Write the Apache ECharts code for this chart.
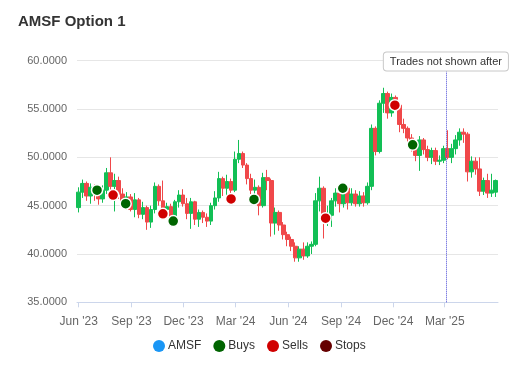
<!DOCTYPE html>
<html>
<head>
<meta charset="utf-8">
<script src="https://cdn.jsdelivr.net/npm/echarts@6/dist/echarts.min.js"></script>
<style>html,body{margin:0;padding:0;background:#fff}#c{width:530px;height:380px}</style>
</head>
<body>
<div id="c"></div>
<script>
const dates = [
'2023-06-01','2023-06-08','2023-06-15','2023-06-22','2023-06-29','2023-07-06','2023-07-13','2023-07-20','2023-07-27','2023-08-03',
'2023-08-10','2023-08-17','2023-08-24','2023-08-31','2023-09-07','2023-09-14','2023-09-21','2023-09-28','2023-10-05','2023-10-12',
'2023-10-19','2023-10-26','2023-11-02','2023-11-09','2023-11-16','2023-11-23','2023-11-30','2023-12-07','2023-12-14','2023-12-21',
'2023-12-28','2024-01-04','2024-01-11','2024-01-18','2024-01-25','2024-02-01','2024-02-08','2024-02-15','2024-02-22','2024-02-29',
'2024-03-07','2024-03-14','2024-03-21','2024-03-28','2024-04-04','2024-04-11','2024-04-18','2024-04-25','2024-05-02','2024-05-09',
'2024-05-16','2024-05-23','2024-05-30','2024-06-06','2024-06-13','2024-06-20','2024-06-27','2024-07-04','2024-07-11','2024-07-18',
'2024-07-25','2024-08-01','2024-08-08','2024-08-15','2024-08-22','2024-08-29','2024-09-05','2024-09-12','2024-09-19','2024-09-26',
'2024-10-03','2024-10-10','2024-10-17','2024-10-24','2024-10-31','2024-11-07','2024-11-14','2024-11-21','2024-11-28','2024-12-05',
'2024-12-12','2024-12-19','2024-12-26','2025-01-02','2025-01-09','2025-01-16','2025-01-23','2025-01-30','2025-02-06','2025-02-13',
'2025-02-20','2025-02-27','2025-03-06','2025-03-13','2025-03-20','2025-03-27','2025-04-03','2025-04-10','2025-04-17','2025-04-24',
'2025-05-01','2025-05-08','2025-05-15','2025-05-22','2025-05-29'];
const opens = [44.8,46.4,47.3,46.0,46.9,46.2,45.7,46.6,48.4,47.0, 47.6,46.2,45.5,45.9,44.6,45.6,44.1,44.8,43.3,44.6,
 47.0,45.5,44.6,44.9,43.6,45.4,46.1,45.2,44.2,45.4, 43.6,44.3,43.8,43.4,45.0,45.8,47.8,46.8,47.5,46.6,
 49.8,50.4,49.2,47.8,46.6,46.9,45.0,47.9,47.6,43.2, 44.3,43.0,42.0,41.5,40.8,39.6,40.5,39.8,40.8,41.0,
 45.5,46.8,43.6,44.0,45.5,46.3,45.2,46.8,45.3,46.2, 45.2,46.0,45.3,47.0,53.0,50.6,55.6,56.6,54.6,56.2,
 55.4,53.4,53.0,52.0,51.3,50.2,51.8,50.8,50.0,50.7, 49.6,49.7,50.9,50.0,50.9,51.8,52.6,52.4,48.5,49.6,
 48.8,46.5,47.6,46.3,46.4];
const closes = [46.4,47.3,46.0,46.9,46.2,45.7,46.6,48.4,47.0,47.6, 46.2,45.5,45.9,44.6,45.6,44.1,44.8,43.3,44.6,47.0,
 45.5,44.6,44.9,43.6,45.4,46.1,45.2,44.2,45.4,43.6, 44.3,43.8,43.4,45.0,45.8,47.8,46.8,47.5,46.6,49.8,
 50.4,49.2,47.8,46.6,46.9,45.0,47.9,47.6,43.2,44.3, 43.0,42.0,41.5,40.8,39.6,40.5,39.8,40.8,41.0,45.5,
 46.8,43.6,44.0,45.5,46.3,45.2,46.8,45.3,46.2,45.2, 46.0,45.3,47.0,53.0,50.6,55.6,56.6,54.6,56.2,55.4,
 53.4,53.0,52.0,51.3,50.2,51.8,50.8,50.0,50.7,49.6, 49.7,50.9,50.0,50.9,51.8,52.6,52.4,48.5,49.6,48.8,
 46.5,47.6,46.3,46.6,47.6];
const lows = [44.3,45.8,45.5,45.2,45.5,45.1,45.3,46.2,46.5,44.4, 45.7,45.0,44.6,44.4,43.8,43.7,43.6,42.5,42.7,44.2,
 45.0,44.1,43.8,43.2,43.3,44.8,44.9,43.6,42.6,43.0, 42.8,43.2,42.8,43.0,44.6,45.4,46.0,45.8,45.4,46.4,
 49.4,48.9,47.2,46.2,45.6,44.0,44.8,46.6,41.8,42.0, 42.4,41.5,40.8,40.3,39.2,39.2,39.4,39.6,40.0,40.8,
 44.4,41.6,42.9,42.8,44.9,44.3,44.8,44.6,45.0,44.9, 44.9,44.9,45.1,46.6,50.2,50.4,54.6,54.0,54.2,55.0,
 52.6,52.5,51.6,50.6,49.6,48.6,50.3,49.6,49.3,49.2, 49.2,49.4,49.8,49.4,50.3,51.2,51.5,47.5,47.9,48.2,
 46.0,46.1,45.8,45.9,45.9];
const highs = [46.9,47.7,47.5,47.3,47.2,46.8,47.1,48.9,50.0,48.3, 48.0,46.8,46.4,46.2,46.3,45.8,45.4,45.0,45.0,47.4,
 47.2,47.6,45.3,45.2,45.6,46.6,46.7,45.8,45.8,45.5, 44.6,44.5,44.2,45.3,46.5,48.5,48.0,48.2,47.8,50.6,
 51.8,50.6,49.4,48.3,47.7,47.1,48.4,48.7,47.8,44.8, 44.5,43.3,42.3,41.8,41.2,40.8,41.2,41.2,41.3,46.3,
 48.0,47.0,45.0,45.8,46.8,46.6,47.2,47.0,46.8,46.6, 46.5,46.4,47.4,53.4,53.2,55.9,57.2,56.8,56.6,56.4,
 55.6,54.0,53.2,52.4,51.6,52.2,52.0,51.2,51.0,51.0, 50.2,51.2,52.8,51.4,52.3,53.0,53.0,52.6,50.1,50.0,
 50.0,47.9,48.3,48.3,47.7];

const buyDates = ['2023-07-03','2023-08-22','2023-11-13','2024-04-02','2024-09-04','2025-01-04'];
const buyPrices = [46.6,45.2,43.4,45.65,46.8,51.3];
const sellDates = ['2023-07-31','2023-10-26','2024-02-22','2024-08-05','2024-12-04'];
const sellPrices = [46.1,44.15,45.7,43.7,55.4];
const stopDates = [];
const stopPrices = [];

const tickDates = ['2023-06-01','2023-09-01','2023-12-01','2024-03-01','2024-06-01','2024-09-01','2024-12-01','2025-03-01'];
const tickLabels = ["Jun '23","Sep '23","Dec '23","Mar '24","Jun '24","Sep '24","Dec '24","Mar '25"];
const cutoffDate = '2025-03-03';
const cutoffText = 'Trades not shown after';
const yTicks = [35,40,45,50,55,60];

const ts = d => { const p = d.split('-').map(Number); return Date.UTC(p[0], p[1]-1, p[2]); };
const tickTs = tickDates.map(ts);
const candleData = dates.map((d,i) => [ts(d), opens[i], closes[i], lows[i], highs[i]]);
const buyData = buyDates.map((d,i) => [ts(d), buyPrices[i]]);
const sellData = sellDates.map((d,i) => [ts(d), sellPrices[i]]);
const stopData = stopDates.map((d,i) => [ts(d), stopPrices[i]]);

const UP = '#12bf55', DOWN = '#f0484a';
const chart = echarts.init(document.getElementById('c'), null, {renderer:'canvas'});
chart.setOption({
  animation: false,
  textStyle: {fontFamily: 'Liberation Sans, Arial, sans-serif'},
  title: {text: 'AMSF Option 1', left: 13, top: 9,
    textStyle: {fontSize: 15, fontWeight: 'bold', color: '#333333', fontFamily: 'Liberation Sans, Arial, sans-serif'}},
  legend: {
    left: 148, top: 335, icon: 'circle', itemWidth: 12, itemHeight: 12, itemGap: 12,
    textStyle: {fontSize: 12, color: '#333333', padding: [0, 0, 0, -2]},
    data: [
      {name: 'AMSF', itemStyle: {color: '#1a96f5', borderWidth: 0}},
      {name: 'Buys', itemStyle: {color: '#006400', borderWidth: 0}},
      {name: 'Sells', itemStyle: {color: '#d00000', borderWidth: 0}},
      {name: 'Stops', itemStyle: {color: '#660000', borderWidth: 0}}
    ]
  },
  grid: {left: 77, right: 32, top: 60.7, bottom: 77.7, containLabel: false},
  xAxis: {
    type: 'value', min: ts('2023-05-29'), max: ts('2025-06-02'), scale: true,
    axisLine: {show: true, lineStyle: {color: '#ccd6eb'}},
    axisTick: {show: true, length: 5, lineStyle: {color: '#ccd6eb'}, customValues: tickTs},
    axisLabel: {customValues: tickTs, fontSize: 12, color: '#666666', margin: 13,
      formatter: v => { const i = tickTs.indexOf(v); return i >= 0 ? tickLabels[i] : ''; }},
    splitLine: {show: false}
  },
  yAxis: {
    type: 'value', min: yTicks[0], max: yTicks[yTicks.length-1], interval: 5,
    axisLine: {show: false}, axisTick: {show: false},
    axisLabel: {fontSize: 11, color: '#666666', margin: 10, formatter: v => v.toFixed(4)},
    splitLine: {lineStyle: {color: '#e6e6e6'}}
  },
  series: [
    {
      name: 'AMSF', type: 'candlestick', data: candleData, barWidth: 4.2,
      itemStyle: {color: UP, color0: DOWN, borderColor: UP, borderColor0: DOWN, borderWidth: 1},
      markLine: {
        silent: true, symbol: ['none','none'],
        lineStyle: {color: '#4a4ad6', type: 'dotted', width: 1},
        label: {show: true, position: 'end', distance: 1, formatter: cutoffText,
          fontSize: 11, color: '#333333', backgroundColor: '#ffffff', borderColor: '#c8c8c8',
          borderWidth: 1, borderRadius: 3, padding: [4, 6, 3, 6]},
        data: [[{coord: [ts(cutoffDate), 35]}, {coord: [ts(cutoffDate), 58.88]}]]
      }
    },
    {name: 'Buys', type: 'scatter', data: buyData, symbol: 'circle', symbolSize: 11, z: 5,
      itemStyle: {color: '#006400', borderColor: '#ffffff', borderWidth: 1.5, opacity: 1}},
    {name: 'Sells', type: 'scatter', data: sellData, symbol: 'circle', symbolSize: 11, z: 5,
      itemStyle: {color: '#d00000', borderColor: '#ffffff', borderWidth: 1.5, opacity: 1}},
    {name: 'Stops', type: 'scatter', data: stopData, symbol: 'circle', symbolSize: 11, z: 5,
      itemStyle: {color: '#660000', borderColor: '#ffffff', borderWidth: 1.5, opacity: 1}}
  ]
});
</script>
</body>
</html>
